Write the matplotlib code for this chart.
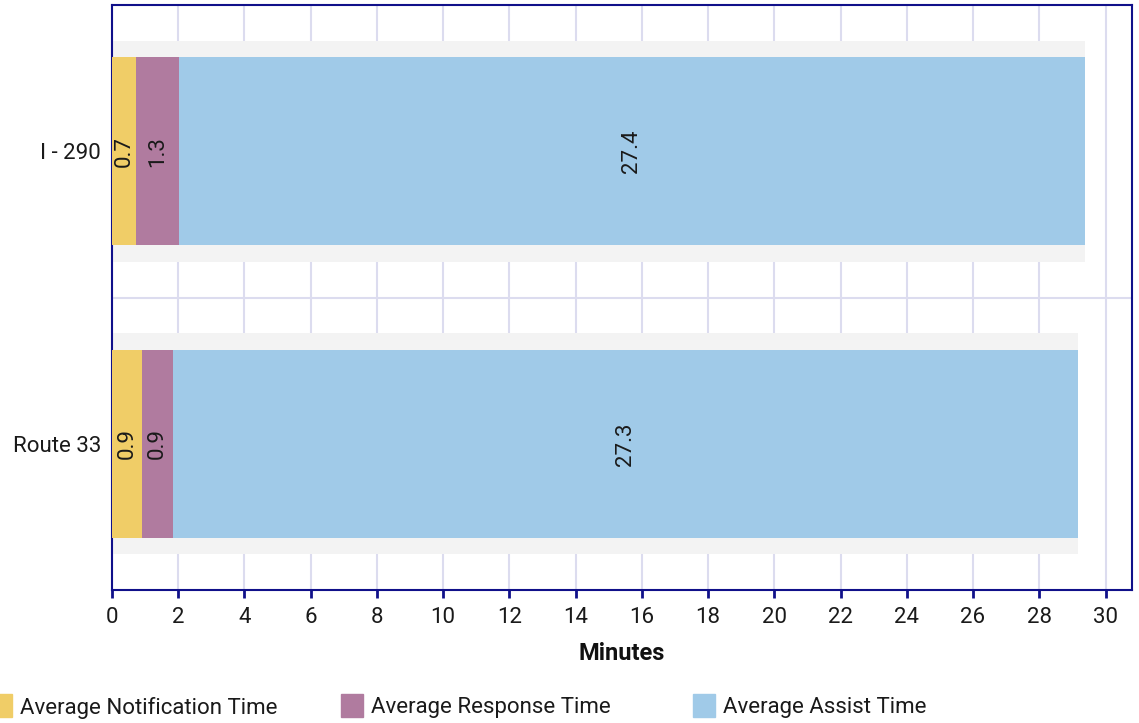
import matplotlib
matplotlib.use("Agg")
import matplotlib.pyplot as plt
from matplotlib.patches import Rectangle
import numpy as np

plt.rcParams['font.family'] = ['Roboto', 'DejaVu Sans']

categories = ["I - 290", "Route 33"]
series_names = ["Average Notification Time", "Average Response Time", "Average Assist Time"]
notification = [0.72, 0.90]
response = [1.30, 0.93]
assist = [27.36, 27.34]
x_ticks = list(range(0, 31, 2))

colors = ["#f0cd67", "#b07b9f", "#a0cae8"]
navy = "#10108a"
grid_c = "#dcdcef"
txt = "#1a1a1a"

fig = plt.figure(figsize=(11.39, 7.23), dpi=100)
ax = fig.add_axes([112/1139, 1 - 590/723, (1132-112)/1139, (590-5)/723])

ypos = np.arange(len(categories))
series = [notification, response, assist]
totals = np.sum(series, axis=0)

# background gray bars
ax.barh(ypos, totals, height=0.756, color="#f3f3f3", zorder=2)

left = np.zeros(len(categories))
for vals, c in zip(series, colors):
    ax.barh(ypos, vals, left=left, height=0.643, color=c, zorder=3)
    for yi, (l, v) in enumerate(zip(left, vals)):
        ax.text(l + v/2, ypos[yi], f"{v:.1f}", rotation=90, ha="center", va="center",
                fontsize=16, color=txt, zorder=4)
    left = left + np.array(vals)

ax.set_xlim(0, 30.8)
ax.set_ylim(1.5, -0.5)
ax.set_xticks(x_ticks)
ax.set_xticklabels([str(t) for t in x_ticks], fontsize=16, color=txt)
ax.set_yticks(ypos)
ax.set_yticklabels(categories, fontsize=16, color=txt)
ax.set_yticks([0.5], minor=True)
ax.tick_params(axis='y', which='both', length=0, pad=8)
ax.tick_params(axis='x', length=6, width=2, color=navy, pad=6)

ax.grid(axis='x', color=grid_c, linewidth=1.5, zorder=1)
ax.grid(axis='y', which='minor', color=grid_c, linewidth=1.5, zorder=1)
ax.set_axisbelow(True)

for s in ax.spines.values():
    s.set_color(navy)
    s.set_linewidth(1.5)

ax.set_xlabel("Minutes", fontsize=17, fontweight="bold", color="#111111", labelpad=10)

# legend
leg_x = [-10, 341, 693]
for lx, name, c in zip(leg_x, series_names, colors):
    fig.patches.append(Rectangle((lx/1139, 1 - 717/723), 22/1139, 23/723,
                                 transform=fig.transFigure, color=c))
    fig.text((lx + 30)/1139, 1 - 708/723, name, fontsize=16, color=txt,
             va="center", ha="left")

fig.savefig("out.png", dpi=100)
